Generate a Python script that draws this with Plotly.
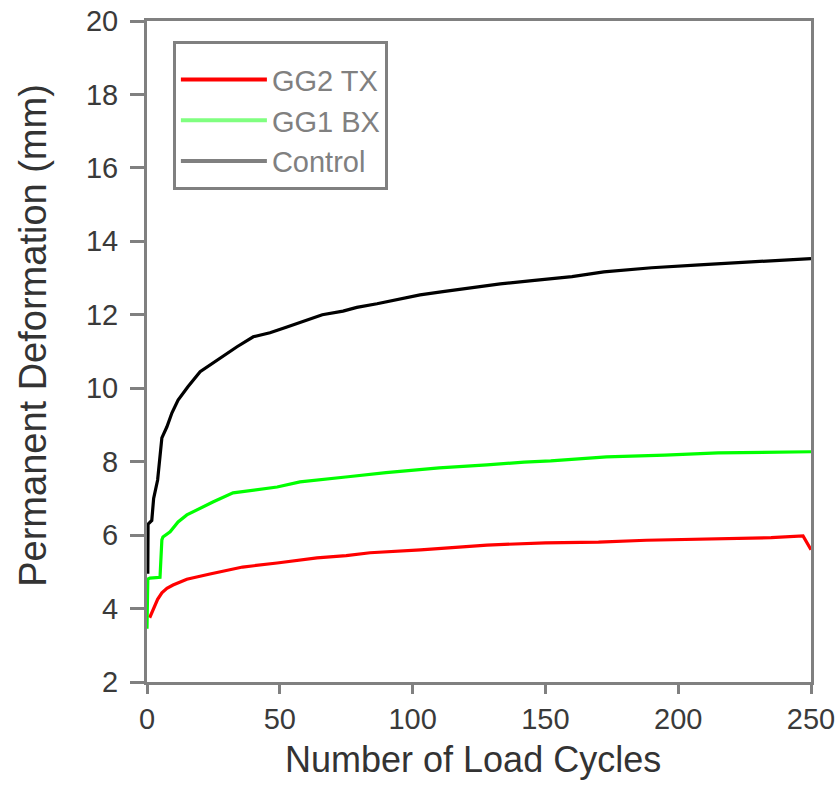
import plotly.graph_objects as go

# ---- data ----
tx_x = [1, 2.4, 4, 5.6, 7.5, 9.8, 15, 23.7, 36, 49, 64, 75, 84, 103, 128, 150, 170, 188, 215, 235, 247, 250]
tx_y = [3.75, 3.96, 4.25, 4.43, 4.55, 4.64, 4.8, 4.94, 5.13, 5.24, 5.38, 5.44, 5.52, 5.6, 5.73, 5.79, 5.81, 5.86, 5.89, 5.93, 5.98, 5.6]

bx_x = [0, 0.3, 1.1, 4.9, 5.6, 6, 8.7, 11.7, 15, 20, 24.8, 32.4, 41.4, 49, 57.6, 69, 75.7, 90, 110, 128, 142, 152, 164, 173, 195, 215, 250]
bx_y = [3.45, 4.8, 4.83, 4.85, 5.87, 5.95, 6.09, 6.36, 6.55, 6.74, 6.9, 7.15, 7.23, 7.31, 7.45, 7.53, 7.59, 7.7, 7.83, 7.91, 7.99, 8.02, 8.08, 8.13, 8.18, 8.24, 8.27]

ctl_x = [0.3, 0.4, 1.8, 2.5, 4, 5.6, 7.5, 9.4, 11.7, 15.4, 20, 26.4, 33.9, 40, 46.3, 52.7, 60, 66, 73.8, 79, 86.6, 94, 102.8, 111.4, 121.6, 133, 145, 160, 172, 190, 208, 228, 250]
ctl_y = [4.95, 6.3, 6.4, 7.0, 7.5, 8.65, 8.95, 9.33, 9.68, 10.04, 10.45, 10.77, 11.13, 11.4, 11.51, 11.67, 11.86, 12.0, 12.1, 12.2, 12.3, 12.4, 12.54, 12.63, 12.73, 12.84, 12.93, 13.04, 13.17, 13.28, 13.36, 13.45, 13.53]

series_names = ["GG2 TX", "GG1 BX", "Control"]
line_colors = ["#ff0000", "#00ff00", "#000000"]
legend_colors = ["#ff0000", "#80ff80", "#808080"]

x_ticks = [0, 50, 100, 150, 200, 250]
y_ticks = [2, 4, 6, 8, 10, 12, 14, 16, 18, 20]

FONT = "Liberation Sans, Arial, sans-serif"
AXIS_GREY = "#808080"

fig = go.Figure()
for xs, ys, c in zip([tx_x, bx_x, ctl_x], [tx_y, bx_y, ctl_y], line_colors):
    fig.add_trace(go.Scatter(x=xs, y=ys, mode="lines", line=dict(color=c, width=3.2),
                             showlegend=False, hoverinfo="skip"))
# legend entries (legend swatch colours differ from rendered curves in the reference)
for name, c in zip(series_names, legend_colors):
    fig.add_trace(go.Scatter(x=[None], y=[None], mode="lines", name=name,
                             line=dict(color=c, width=4)))

fig.update_layout(
    width=836, height=805,
    margin=dict(l=147, r=25, t=21, b=123, autoexpand=False),
    paper_bgcolor="white", plot_bgcolor="white",
    font=dict(family=FONT, color="#3a3a3a", size=29),
    legend=dict(x=0.039, y=0.97, xanchor="left", yanchor="top",
                bordercolor=AXIS_GREY, borderwidth=3, bgcolor="white",
                font=dict(size=29, color="#808080", family=FONT),
                title=dict(text=" ", font=dict(size=8)),
                itemwidth=86),
    annotations=[
        dict(text="Number of Load Cycles", xref="paper", yref="paper",
             x=0.491, y=-0.118, xanchor="center", yanchor="middle", showarrow=False,
             font=dict(size=36, color="#333333", family=FONT)),
        dict(text="Permanent Deformation (mm)", xref="paper", yref="paper",
             x=-0.172, y=0.525, xanchor="center", yanchor="middle", showarrow=False,
             textangle=-90, font=dict(size=38, color="#333333", family=FONT)),
    ],
)
fig.update_xaxes(range=[0, 250], tickvals=x_ticks, ticktext=[str(v) for v in x_ticks],
                 showgrid=False, zeroline=False, showline=True, linecolor=AXIS_GREY,
                 linewidth=3, mirror=True, ticks="outside", ticklen=9, tickwidth=3,
                 tickcolor=AXIS_GREY, ticklabelstandoff=0, automargin=False,
                 ticklabeloverflow="allow")
fig.update_yaxes(range=[2, 20], tickvals=y_ticks, ticktext=[str(v) for v in y_ticks],
                 showgrid=False, zeroline=False, showline=True, linecolor=AXIS_GREY,
                 linewidth=3, mirror=True, ticks="outside", ticklen=14, tickwidth=3,
                 tickcolor=AXIS_GREY, ticklabelstandoff=6, automargin=False,
                 ticklabeloverflow="allow")

# remove the browser's default 8px body margin so the figure fills the window exactly
fig.write_html("out.html", config={"displayModeBar": False},
               post_script="document.body.style.margin='0';document.body.style.overflow='hidden';")
